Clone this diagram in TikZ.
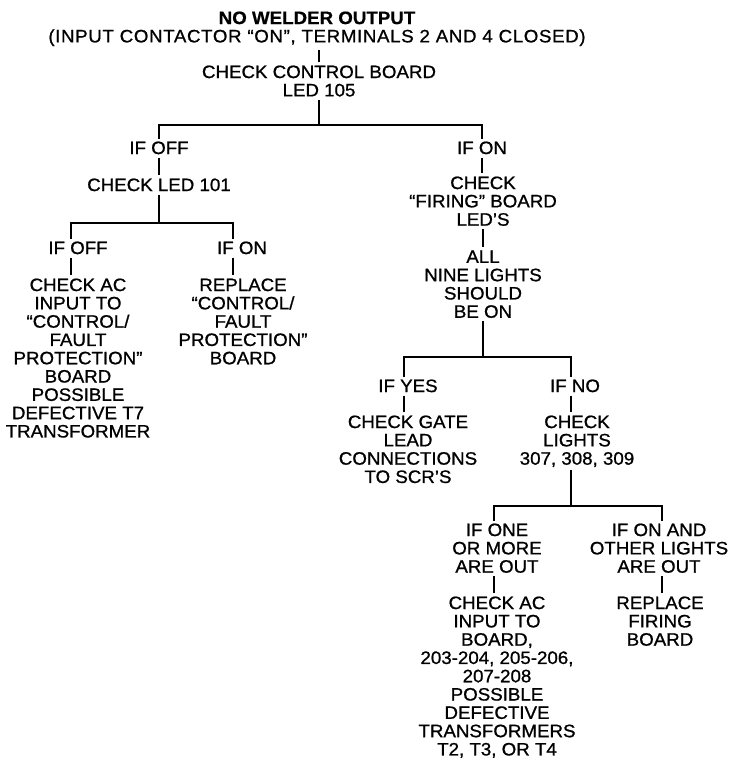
\documentclass[tikz,border=0pt]{standalone}
\usepackage{fontspec}
\setmainfont{Liberation Sans}[FakeStretch=1.04, UprightFeatures={FakeBold=0.9}, BoldFeatures={FakeBold=0.6}]
\begin{document}
\begin{tikzpicture}[x=1pt,y=-1pt,
  txt/.style={align=center, inner sep=0pt, outer sep=0pt, anchor=north, font=\fontsize{18}{18.3}\selectfont},
  conn/.style={line width=1.9pt, shorten <=3.5pt, shorten >=3.5pt},
  bar/.style={line width=2.4pt, line join=miter, shorten <=3pt, shorten >=3pt}]
\useasboundingbox (0,0) rectangle (732,760);

% top column
\node[txt] (title) at (317,11.5) {\textbf{NO WELDER OUTPUT}\\{\addfontfeatures{LetterSpace=3.5}(INPUT CONTACTOR “ON”, TERMINALS 2 AND 4 CLOSED)}};
\node[txt] (ccb) at (319,65.5) {CHECK CONTROL BOARD\\LED 105};
\draw[conn] (title.south -| ccb.north) -- (ccb.north);

% first split
\coordinate (bA) at (319,125);
\coordinate (bA1) at (159,125);
\coordinate (bA2) at (482,125);
\node[txt] (ifoffA) at (159,141.5) {IF OFF};
\node[txt] (ifonA) at (482,141.5) {IF ON};
\draw[conn, shorten >=0pt] (ccb.south) -- (bA);
\draw[bar] (ifoffA.north -| bA1) -- (bA1) -- (bA2) -- (ifonA.north -| bA2);

% left branch
\node[txt] (led101) at (159,178.5) {CHECK LED 101};
\draw[conn] (ifoffA.south) -- (led101.north);
\coordinate (bB) at (159,223);
\coordinate (bB1) at (71,223);
\coordinate (bB2) at (233,223);
\node[txt] (ifoffB) at (78,241.5) {IF OFF};
\node[txt] (ifonB) at (242,241.5) {IF ON};
\draw[conn, shorten >=0pt] (led101.south) -- (bB);
\draw[bar] (ifoffB.north -| bB1) -- (bB1) -- (bB2) -- (ifonB.north -| bB2);
\node[txt] (chkacA) at (78,278.5) {CHECK AC\\INPUT TO\\“CONTROL/\\FAULT\\PROTECTION”\\BOARD\\POSSIBLE\\DEFECTIVE T7\\TRANSFORMER};
\node[txt] (replA) at (243,278.5) {REPLACE\\“CONTROL/\\FAULT\\PROTECTION”\\BOARD};
\draw[conn] (ifoffB.south -| bB1) -- (chkacA.north -| bB1);
\draw[conn] (ifonB.south -| bB2) -- (replA.north -| bB2);

% right branch
\node[txt] (firing) at (483,176.5) {CHECK\\“FIRING” BOARD\\LED’S};
\draw[conn] (ifonA.south) -- (firing.north -| ifonA.south);
\node[txt] (allnine) at (483,250.5) {ALL\\NINE LIGHTS\\SHOULD\\BE ON};
\draw[conn] (firing.south) -- (allnine.north);
\coordinate (bC) at (483,357);
\coordinate (bC1) at (404,357);
\coordinate (bC2) at (571,357);
\node[txt] (ifyes) at (408,379.5) {IF YES};
\node[txt] (ifno) at (575,379.5) {IF NO};
\draw[conn, shorten >=0pt] (allnine.south) -- (bC);
\draw[bar] (ifyes.north -| bC1) -- (bC1) -- (bC2) -- (ifno.north -| bC2);
\node[txt] (gate) at (408,415.5) {CHECK GATE\\LEAD\\CONNECTIONS\\TO SCR’S};
\node[txt] (lights) at (577,415.5) {CHECK\\LIGHTS\\307, 308, 309};
\draw[conn] (ifyes.south -| bC1) -- (gate.north -| bC1);
\draw[conn] (ifno.south -| bC2) -- (lights.north -| bC2);

% last split
\coordinate (bD) at (571,506);
\coordinate (bD1) at (494,506);
\coordinate (bD2) at (662,506);
\node[txt] (ifone) at (497,523.5) {IF ONE\\OR MORE\\ARE OUT};
\node[txt] (ifonand) at (659,523.5) {IF ON AND\\OTHER LIGHTS\\ARE OUT};
\draw[conn, shorten >=0pt] (lights.south -| bD) -- (bD);
\draw[bar] (ifone.north -| bD1) -- (bD1) -- (bD2) -- (ifonand.north -| bD2);
\node[txt] (chkacB) at (497,596.5) {CHECK AC\\INPUT TO\\BOARD,\\203-204, 205-206,\\207-208\\POSSIBLE\\DEFECTIVE\\TRANSFORMERS\\T2, T3, OR T4};
\node[txt] (replF) at (660,596.5) {REPLACE\\FIRING\\BOARD};
\draw[conn] (ifone.south -| bD1) -- (chkacB.north -| bD1);
\draw[conn] (ifonand.south -| bD2) -- (replF.north -| bD2);
\end{tikzpicture}
\end{document}
